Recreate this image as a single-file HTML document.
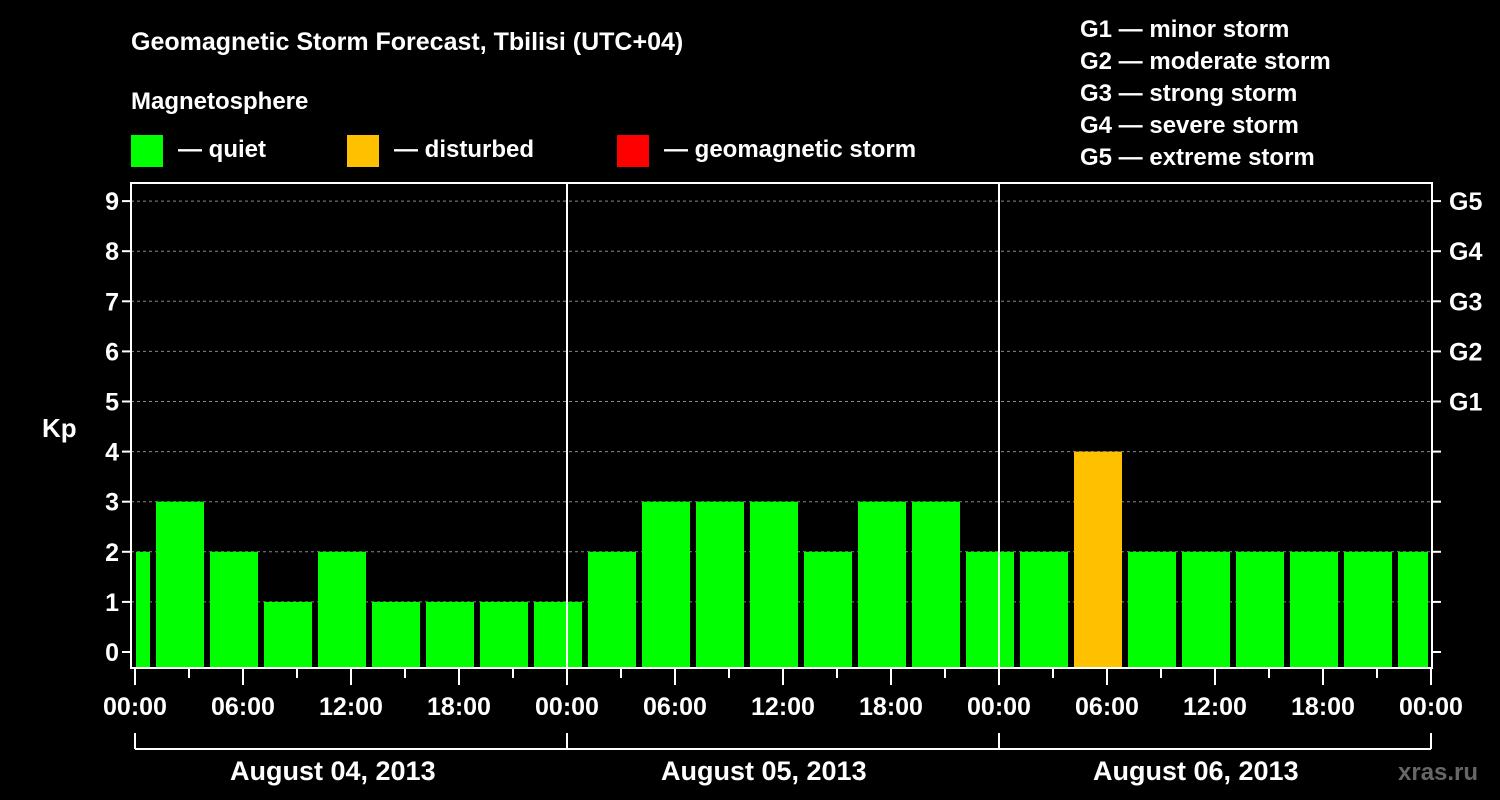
<!DOCTYPE html>
<html><head><meta charset="utf-8"><style>
html,body{margin:0;padding:0;background:#000;}
svg{display:block;font-family:"Liberation Sans",sans-serif;font-weight:bold;}
</style></head><body>
<svg width="1500" height="800" viewBox="0 0 1500 800">
<rect width="1500" height="800" fill="#000"/>
<text x="131" y="50" fill="#fff" font-size="25">Geomagnetic Storm Forecast, Tbilisi (UTC+04)</text>
<text x="131" y="109" fill="#fff" font-size="24">Magnetosphere</text>
<g><rect x="131" y="135" width="32" height="32" fill="#00ff00"/><text x="178" y="157" fill="#fff" font-size="24">— quiet</text></g>
<g><rect x="347" y="135" width="32" height="32" fill="#ffc000"/><text x="394" y="157" fill="#fff" font-size="24">— disturbed</text></g>
<g><rect x="617" y="135" width="32" height="32" fill="#ff0000"/><text x="664" y="157" fill="#fff" font-size="24">— geomagnetic storm</text></g>
<g fill="#fff" font-size="24">
<text x="1080" y="37">G1 — minor storm</text>
<text x="1080" y="69">G2 — moderate storm</text>
<text x="1080" y="101">G3 — strong storm</text>
<text x="1080" y="133">G4 — severe storm</text>
<text x="1080" y="165">G5 — extreme storm</text>
</g>
<text x="42" y="437" fill="#fff" font-size="26">Kp</text>
<text x="230" y="780" fill="#fff" font-size="27">August 04, 2013</text>
<text x="661" y="780" fill="#fff" font-size="27">August 05, 2013</text>
<text x="1093" y="780" fill="#fff" font-size="27">August 06, 2013</text>
<text x="1398" y="780" fill="#666" font-size="24">xras.ru</text>
<g id="plot"></g>
</svg>
<script>
const kpValues=[2,3,2,1,2,1,1,1,1,2,3,3,3,2,3,3,2,2,4,2,2,2,2,2,2];
const yTicks=[0,1,2,3,4,5,6,7,8,9];
const gLabels=["G1","G2","G3","G4","G5"];
const xTickLabels=["00:00","06:00","12:00","18:00","00:00","06:00","12:00","18:00","00:00","06:00","12:00","18:00","00:00"];
const NS="http://www.w3.org/2000/svg";
const g=document.getElementById('plot');
const X0=135,PXH=18,L=131,R=1432,T=183,B=668;
const xs=h=>X0+h*PXH;
const ys=v=>652-v*50.1;
function el(t,a){const e=document.createElementNS(NS,t);for(const k in a)e.setAttribute(k,a[k]);g.appendChild(e);return e;}
yTicks.forEach(v=>{
 if(v>0){const l=el('line',{x1:L,x2:R,y1:ys(v),y2:ys(v),stroke:'#888','stroke-dasharray':'3,3','stroke-width':1});
 
 }
 const t=el('line',{x1:L-9,x2:L,y1:ys(v),y2:ys(v),stroke:'#fff','stroke-width':2});
 
 
 const t2=el('line',{x1:R,x2:R+9,y1:ys(v),y2:ys(v),stroke:'#fff','stroke-width':2});
 
 
 const tx=el('text',{x:L-12,y:ys(v)+9,fill:'#fff','font-size':25,'text-anchor':'end'});tx.textContent=v;
 
 
});
gLabels.forEach((s,i)=>{const tx=el('text',{x:R+17,y:ys(5+i)+9,fill:'#fff','font-size':25});tx.textContent=s;
 
 });
kpValues.forEach((v,k)=>{
 let x1=xs(-2+3*k)+3,x2=x1+48;x1=Math.max(x1,X0+1);x2=Math.min(x2,R-4);
 const c=v>=5?'#ff0000':(v>=4?'#ffc000':'#00ff00');
 const r=el('rect',{x:x1,y:ys(v),width:x2-x1,height:B-1-ys(v),fill:c});
 
 
});
[24,48].forEach(h=>{const l=el('line',{x1:xs(h),x2:xs(h),y1:T,y2:B,stroke:'#fff','stroke-width':2});
 
 });
const f=el('rect',{x:L,y:T,width:R-L,height:B-T,fill:'none',stroke:'#fff','stroke-width':2});


for(let h=0;h<=72;h+=3){const maj=h%6===0;
 const l=el('line',{x1:xs(h),x2:xs(h),y1:B,y2:B+(maj?17:10),stroke:'#fff','stroke-width':2});
 
 }
xTickLabels.forEach((s,i)=>{const tx=el('text',{x:xs(i*6),y:715,fill:'#fff','font-size':25,'text-anchor':'middle'});tx.textContent=s;
 
 });
const br=el('line',{x1:xs(0),x2:xs(72),y1:749,y2:749,stroke:'#fff','stroke-width':2});


[0,24,48,72].forEach(h=>{const l=el('line',{x1:xs(h),x2:xs(h),y1:733,y2:749,stroke:'#fff','stroke-width':2});
 
 });
</script>
</body></html>
